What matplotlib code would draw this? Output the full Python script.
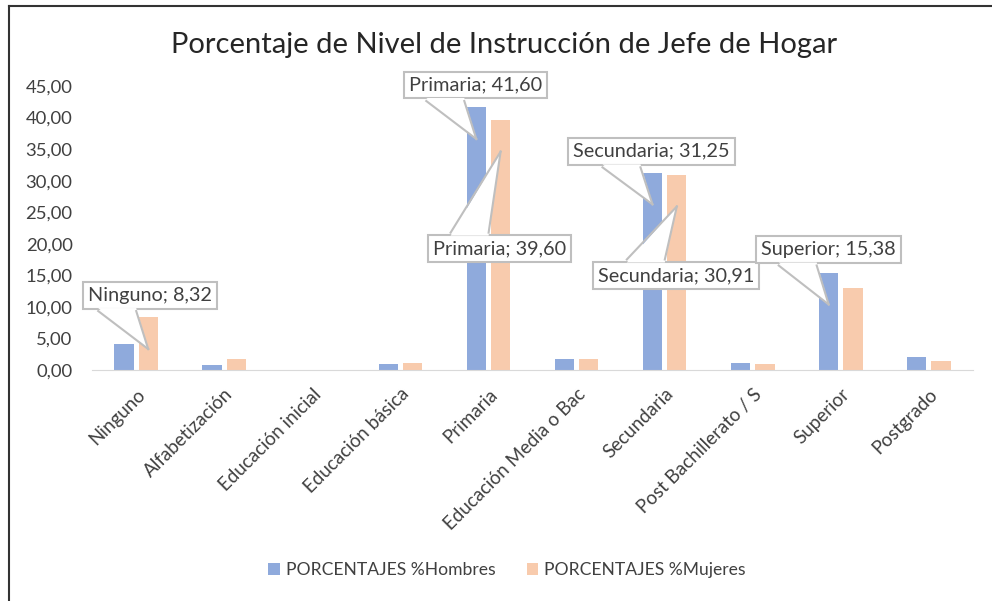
import matplotlib
matplotlib.use("Agg")
import matplotlib.pyplot as plt
import numpy as np
from matplotlib.lines import Line2D
from matplotlib.patches import Polygon
from matplotlib.transforms import ScaledTranslation

plt.rcParams["font.family"] = ["Lato", "DejaVu Sans"]

categories = [
    "Ninguno", "Alfabetización", "Educación inicial", "Educación básica",
    "Primaria", "Educación Media o Bac", "Secundaria", "Post Bachillerato / S",
    "Superior", "Postgrado",
]
hombres = [4.15, 0.80, 0.00, 0.95, 41.60, 1.80, 31.25, 1.10, 15.38, 2.05]
mujeres = [8.32, 1.74, 0.00, 1.10, 39.60, 1.80, 30.91, 0.95, 13.00, 1.50]

# callouts: (series, category index, box centre offset in pixels from the pointer tip)
callouts = [
    ("m", 0, (2, 54)),
    ("h", 4, (-1, 54)),
    ("m", 4, (-1, -97)),
    ("h", 6, (-1, 53)),
    ("m", 6, (-1, -69)),
    ("h", 8, (0, 55)),
]

c_h = "#8FAADC"
c_m = "#F8CBAD"
txt = "#404040"
gray = "#BFBFBF"

fig = plt.figure(figsize=(9.92, 6.01), dpi=100)
ax = fig.add_axes([92 / 992, 1 - 370 / 601, (973 - 92) / 992, 284 / 601 * 50 / 45])

x = np.arange(len(categories))
w = 0.22
off = 0.138
ax.bar(x - off, hombres, w, color=c_h, label="PORCENTAJES %Hombres", zorder=2)
ax.bar(x + off, mujeres, w, color=c_m, label="PORCENTAJES %Mujeres", zorder=2)

ax.set_xlim(-0.5, len(categories) - 0.5)
ax.set_ylim(0, 50)
yt = np.arange(0, 50, 5)
ax.set_yticks(yt)
ax.set_yticklabels([f"{v:.2f}".replace(".", ",") for v in yt], fontsize=13.3, color=txt)
ax.set_xticks(x)
ax.set_xticklabels(categories, rotation=45, ha="right", rotation_mode="anchor",
                   fontsize=13.5, color=txt)
for s in ["top", "right", "left"]:
    ax.spines[s].set_visible(False)
ax.spines["bottom"].set_color("#D9D9D9")
ax.tick_params(axis="both", length=0)
ax.tick_params(axis="y", pad=14)
ax.tick_params(axis="x", pad=11)

H = 16  # half height of a callout box, pixels
for series, i, (dx, dy) in callouts:
    vals = hombres if series == "h" else mujeres
    xb = i - off if series == "h" else i + off
    v = vals[i]
    tip = (xb, v - 5)
    label = f"{categories[i]}; {v:.2f}".replace(".", ",")
    ax.annotate(
        label, xy=tip, xytext=(dx, dy), textcoords="offset pixels",
        ha="center", va="center", fontsize=14.3, color=txt, zorder=5,
        bbox=dict(boxstyle="square,pad=0.25", fc="white", ec=gray, lw=1.5),
    )
    # pointer wedge, drawn in pixel offsets around the tip
    sgn = 1 if dy > 0 else -1
    edge = dy - sgn * H
    inner = edge + sgn * 3
    bx = (-50, -12)
    tr = fig.dpi_scale_trans + ScaledTranslation(tip[0], tip[1], ax.transData)
    s = 1 / fig.dpi
    ax.add_patch(Polygon([(bx[0] * s, inner * s), (bx[1] * s, inner * s), (0, 0)],
                         closed=True, fc="white", ec="none", transform=tr, zorder=6))
    for b in bx:
        ax.add_line(Line2D([b * s, 0], [edge * s, 0], color=gray, lw=1.5,
                           transform=tr, zorder=7))

fig.text(504 / 992, 1 - 45 / 601, "Porcentaje de Nivel de Instrucción de Jefe de Hogar",
         ha="center", va="center", fontsize=21, color="#262626")

fig.legend(loc="center", bbox_to_anchor=(507 / 992, 1 - 570 / 601), ncol=2,
           frameon=False, fontsize=12.6, handlelength=0.65, handleheight=0.65,
           columnspacing=1.8, labelcolor=txt, handletextpad=0.35)

# frame lines (top and left)
fig.add_artist(Line2D([9 / 992, 1], [1 - 6 / 601, 1 - 6 / 601], color="#333333", lw=1.5))
fig.add_artist(Line2D([9 / 992, 9 / 992], [0, 1 - 6 / 601], color="#333333", lw=1.5))

fig.savefig("out.png", dpi=100)
